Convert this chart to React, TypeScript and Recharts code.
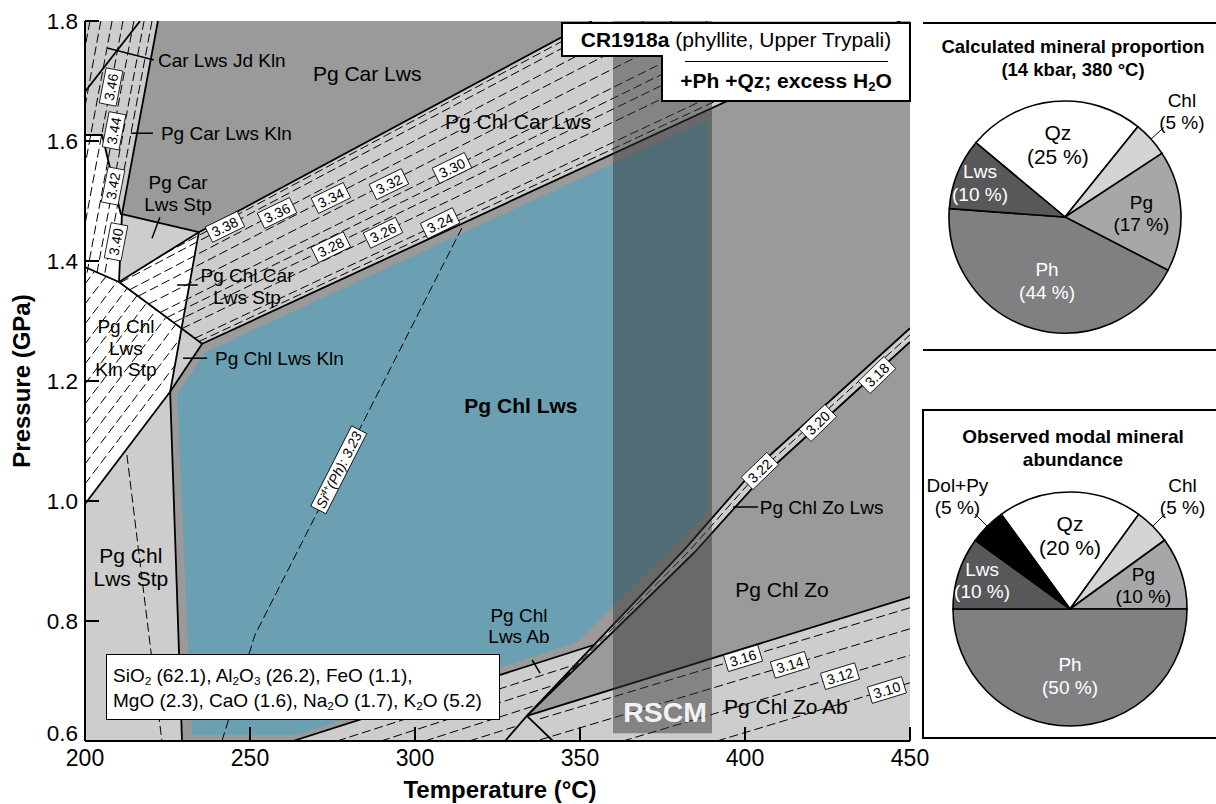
import React from "react";
import { ComposedChart, Scatter, XAxis, YAxis, PieChart, Pie, Cell } from "recharts";

const FONT = "'Liberation Sans', Arial, Helvetica, sans-serif";

// ---- axes ----
const T_TICKS = [200, 250, 300, 350, 400, 450];
const P_TICKS = [0.6, 0.8, 1.0, 1.2, 1.4, 1.6, 1.8];

// ---- fields [T (°C), P (GPa)] ----
const FIELD_BG = [[200, 0.6], [450, 0.6], [450, 1.8], [200, 1.8]];
const FIELD_CAR_LWS = [[222.1, 1.8], [353.6, 1.8], [234.5, 1.448], [211.2, 1.478]];
const FIELD_ZO = [
  [235.5, 1.262], [447.0, 1.8], [450, 1.8], [450, 0.84], [333.9, 0.642],
  [354.2, 0.76], [263.0, 0.6], [229.4, 0.6], [225.8, 1.182],
];
const FIELD_LWS = [
  [227.9, 1.177], [236.4, 1.248], [388.5, 1.635], [388.5, 0.98],
  [349.1, 0.765], [264.2, 0.61], [232.4, 0.61],
];
const FIELD_STP = [
  [200, 1.61], [205.2, 1.61], [210.9, 1.477], [210.3, 1.365],
  [234.5, 1.448], [225.8, 1.182], [200, 0.995],
];
const FIELD_ZO_LWS = [
  [333.9, 0.642], [382.1, 0.922], [403.3, 1.055], [450, 1.288],
  [450, 1.265], [406.1, 1.045], [384.8, 0.915],
];
const RSCM_T = [360, 390];
const RSCM_P = [0.613, 1.8];

// ---- solid field boundaries ----
const BOUNDARIES = [
  [[222.1, 1.8], [211.2, 1.478], [210.3, 1.365]],
  [[211.2, 1.478], [234.5, 1.448]],
  [[234.5, 1.448], [353.6, 1.8]],
  [[200, 1.682], [216.7, 1.8]],
  [[200, 1.61], [205.2, 1.61], [210.9, 1.477]],
  [[200, 1.39], [210.3, 1.365], [235.5, 1.262]],
  [[210.3, 1.365], [234.5, 1.448]],
  [[234.5, 1.448], [225.8, 1.182], [229.4, 0.6]],
  [[225.8, 1.182], [200, 0.995]],
  [[225.8, 1.182], [235.5, 1.262]],
  [[235.5, 1.262], [447.0, 1.8]],
  [[263.0, 0.6], [354.2, 0.76]],
  [[333.9, 0.642], [382.1, 0.922], [403.3, 1.055], [450, 1.288]],
  [[333.9, 0.642], [384.8, 0.915], [406.1, 1.045], [450, 1.265]],
  [[333.9, 0.642], [327.3, 0.6]],
  [[333.9, 0.642], [341.8, 0.6]],
  [[333.9, 0.642], [450, 0.84]],
];

const LEADERS = [
  [[206.7, 1.755], [220.9, 1.735]],
  [[213.9, 1.613], [220.6, 1.613]],
  [[222.7, 1.473], [220.3, 1.438]],
  [[227.9, 1.36], [234.2, 1.36]],
  [[229.7, 1.238], [237.0, 1.238]],
  [[396.4, 0.99], [403.9, 0.99]],
  [[335.5, 0.735], [337.9, 0.713]],
];

// ---- Si (Ph) isopleths ----
const ISO_CAR_LWS = [
  [[224.4, 1.413], [356.1, 1.8]],
  [[210.8, 1.3642], [360.1, 1.8]],
  [[213.6, 1.3523], [369.3, 1.8]],
  [[216.2, 1.3417], [377.9, 1.8]],
  [[219.4, 1.3287], [388.6, 1.8]],
  [[222.8, 1.3143], [390.9, 1.7735]],
  [[224.8, 1.3058], [390.9, 1.7545]],
  [[226.9, 1.2975], [390.9, 1.7357]],
  [[229.3, 1.2872], [390.9, 1.7128]],
  [[233.2, 1.271], [390.9, 1.6773]],
  [[234.5, 1.2658], [390.9, 1.666]],
];
const ISO_KLN = [
  [[201.5, 1.8], [200, 1.7555]],
  [[204.8, 1.8], [200, 1.6573]],
  [[208.2, 1.8], [200, 1.5593]],
  [[211.5, 1.8], [200, 1.4613]],
  [[214.8, 1.8], [200.5, 1.3767]],
  [[217.9, 1.8], [203.5, 1.3767]],
  [[220.3, 1.8], [205.9, 1.3767]],
];
const ISO_KLN_STP = [
  [[200, 1.0283], [227.3, 1.2263]],
  [[200, 1.0617], [228.9, 1.2713]],
  [[200, 1.095], [227.5, 1.2945]],
  [[200, 1.1283], [224.6, 1.3067]],
  [[200, 1.1617], [221.6, 1.3185]],
  [[200, 1.195], [218.7, 1.3305]],
  [[200, 1.2283], [215.8, 1.3425]],
  [[200, 1.2617], [212.8, 1.3547]],
  [[200, 1.295], [209.8, 1.3662]],
  [[200, 1.3283], [206.4, 1.3745]],
  [[200, 1.3617], [202.9, 1.3828]],
];
const ISO_OTHER = [
  [[212.7, 1.0767], [223.3, 0.6]],
  [[241.5, 0.6], [251.5, 0.7767], [314.2, 1.455]],
  [[276.4, 0.6], [347.8, 0.726]],
  [[289.7, 0.6], [342.1, 0.693]],
  [[303.0, 0.6], [336.4, 0.659]],
  [[316.4, 0.6], [331.5, 0.626]],
  [[337.9, 0.637], [450, 0.822]],
  [[337.9, 0.602], [450, 0.787]],
  [[363.0, 0.6], [450, 0.743]],
  [[391.5, 0.6], [450, 0.697]],
  [[333.9, 0.642], [383.3, 0.918], [404.5, 1.05], [450, 1.277]],
];

const ISO_LABELS_CAR = [
  { t: 242.4, p: 1.457, text: "3.38" },
  { t: 258.2, p: 1.48, text: "3.36" },
  { t: 274.5, p: 1.505, text: "3.34" },
  { t: 292.1, p: 1.528, text: "3.32" },
  { t: 311.2, p: 1.555, text: "3.30" },
  { t: 274.5, p: 1.423, text: "3.28" },
  { t: 290.3, p: 1.447, text: "3.26" },
  { t: 307.6, p: 1.463, text: "3.24" },
];
const ISO_LABELS_KLN = [
  { t: 207.9, p: 1.69, text: "3.46" },
  { t: 208.8, p: 1.617, text: "3.44" },
  { t: 208.5, p: 1.525, text: "3.42" },
  { t: 209.4, p: 1.432, text: "3.40" },
];
const ISO_LABELS_ZO_LWS = [
  { t: 404.5, p: 1.05, text: "3.22" },
  { t: 422.1, p: 1.13, text: "3.20" },
  { t: 440.0, p: 1.21, text: "3.18" },
];
const ISO_LABELS_ZO_AB = [
  { t: 399.4, p: 0.738, text: "3.16" },
  { t: 413.6, p: 0.727, text: "3.14" },
  { t: 428.8, p: 0.708, text: "3.12" },
  { t: 443.0, p: 0.685, text: "3.10" },
];
const ISO_LABEL_SI = [{ t: 276.9, p: 1.052, text: "Si^{4+}(Ph): 3.23" }];

// ---- field names ----
const NAMES_SMALL = [
  { t: 228.2, p: 1.513, text: "Pg Car\nLws Stp" },
  { t: 249.1, p: 1.358, text: "Pg Chl Car\nLws Stp" },
  { t: 212.4, p: 1.255, text: "Pg Chl\nLws\nKln Stp" },
  { t: 331.5, p: 0.792, text: "Pg Chl\nLws Ab" },
];
const NAMES_LARGE = [
  { t: 285.5, p: 1.713, text: "Pg Car Lws" },
  { t: 331.2, p: 1.632, text: "Pg Chl Car Lws" },
  { t: 411.2, p: 0.852, text: "Pg Chl Zo" },
  { t: 412.4, p: 0.657, text: "Pg Chl Zo Ab" },
  { t: 213.9, p: 0.89, text: "Pg Chl\nLws Stp" },
];
const NAMES_BOLD = [{ t: 332.1, p: 1.16, text: "Pg Chl Lws" }];
const NAMES_LEADER = [
  { t: 222.1, p: 1.735, text: "Car Lws Jd Kln" },
  { t: 223.0, p: 1.613, text: "Pg Car Lws Kln" },
  { t: 239.4, p: 1.238, text: "Pg Chl Lws Kln" },
  { t: 404.5, p: 0.99, text: "Pg Chl Zo Lws" },
];
const RSCM_LABEL = [{ t: 375.8, p: 0.648, text: "RSCM" }];

// ---- pies ----
const CALC_NAMES = ["Qz", "Chl", "Pg", "Ph", "Lws"];
const CALC_VALUES = [25, 5, 17, 44, 10];
const OBS_NAMES = ["Qz", "Chl", "Pg", "Ph", "Lws", "Dol+Py"];
const OBS_VALUES = [20, 5, 10, 50, 10, 5];

const MINERAL_FILL: Record<string, string> = {
  Qz: "#ffffff", Chl: "#d4d4d4", Pg: "#a7a7a7", Ph: "#808082", Lws: "#58585a", "Dol+Py": "#000000",
};
const LABEL_R: Record<string, number> = { Qz: 0.63, Chl: 1.36, Pg: 0.66, Ph: 0.57, Lws: 0.79, "Dol+Py": 1.36 };
const LABEL_WHITE = ["Lws", "Ph"];
const LABEL_OUTSIDE = ["Chl", "Dol+Py"];

const LIGHT = "#cdcdcd";
const DARK = "#9a9a9a";
const BLUE = "#6aa0b2";

type Pt = { t: number; p: number };
const toPts = (a: number[][]): Pt[] => a.map(([t, p]) => ({ t, p }));
const noDot = () => <g />;

const pathOf = (pts: { x: number; y: number }[], closed: boolean) =>
  (pts || []).map((q, i) => `${i ? "L" : "M"}${q.x},${q.y}`).join(" ") + (closed ? " Z" : "");

function area(fill: string, opacity = 1) {
  return (lp: any) => <path d={pathOf(lp.points, true)} fill={fill} fillOpacity={opacity} stroke="none" />;
}
function stroke(w: number, dash?: string) {
  return (lp: any) => (
    <path d={pathOf(lp.points, false)} fill="none" stroke="#000" strokeWidth={w}
      strokeDasharray={dash} strokeLinejoin="round" />
  );
}

const charW = (ch: string) => (".,:;()il ".includes(ch) ? 0.3 : 0.56);

function richSpans(s: string, fs: number) {
  const parts: { txt: string; sup: boolean }[] = [];
  const re = /\^\{([^}]*)\}/g;
  let last = 0;
  let m: RegExpExecArray | null;
  while ((m = re.exec(s))) {
    if (m.index > last) parts.push({ txt: s.slice(last, m.index), sup: false });
    parts.push({ txt: m[1], sup: true });
    last = m.index + m[0].length;
  }
  if (last < s.length) parts.push({ txt: s.slice(last), sup: false });
  let width = 0;
  parts.forEach((pt) => pt.txt.split("").forEach((c) => (width += charW(c) * fs * (pt.sup ? 0.62 : 1))));
  let prevSup = false;
  const spans = parts.map((pt, i) => {
    const dy = pt.sup ? -fs * 0.38 : prevSup ? fs * 0.38 : 0;
    prevSup = pt.sup;
    return (
      <tspan key={i} dy={dy} fontSize={pt.sup ? fs * 0.62 : fs}>{pt.txt}</tspan>
    );
  });
  return { spans, width };
}

function boxLabel(angle: number, fs = 14, italic = false) {
  return (props: any) => {
    const { cx, cy } = props;
    const d = props.payload ?? props;
    const { spans, width } = richSpans(String(d.text), fs);
    const w = width + 8;
    const h = fs + 3;
    return (
      <g transform={`rotate(${angle} ${cx} ${cy})`}>
        <rect x={cx - w / 2} y={cy - h / 2} width={w} height={h} fill="#fff" stroke="#000" strokeWidth={0.8} />
        <text x={cx} y={cy + fs * 0.36} textAnchor="middle" fontSize={fs} fontFamily={FONT}
          fontStyle={italic ? "italic" : "normal"} fill="#000">
          {spans}
        </text>
      </g>
    );
  };
}

function textMark(fs: number, weight = "normal", anchor = "middle", color = "#000") {
  return (props: any) => {
    const { cx, cy } = props;
    const d = props.payload ?? props;
    const lines = String(d.text).split("\n");
    const lh = fs * 1.13;
    const y0 = cy - ((lines.length - 1) * lh) / 2 + fs * 0.36;
    return (
      <text textAnchor={anchor} fontSize={fs} fontWeight={weight} fill={color} fontFamily={FONT}>
        {lines.map((l, i) => (
          <tspan key={i} x={cx} y={y0 + i * lh}>{l}</tspan>
        ))}
      </text>
    );
  };
}

const AXIS_LINE = { stroke: "#000", strokeWidth: 2 };
const TICK_LINE = { stroke: "#000", strokeWidth: 2 };

const yTick = (props: any) => {
  const { x, y, payload } = props;
  const v = Number(payload.value);
  const shift = v === 0.6 ? -8 : 0;
  return (
    <text x={x} y={y + shift} dy="0.36em" textAnchor="end" fontSize={22.5} fontFamily={FONT} fill="#000">
      {v.toFixed(1)}
    </text>
  );
};

function PhaseDiagram() {
  const rscm = [
    [RSCM_T[0], RSCM_P[0]], [RSCM_T[1], RSCM_P[0]], [RSCM_T[1], RSCM_P[1]], [RSCM_T[0], RSCM_P[1]],
  ];
  return (
    <ComposedChart width={945} height={804} margin={{ top: 21, right: 35, bottom: 0, left: 25 }}>
      <Scatter data={toPts(FIELD_BG)} line={area(LIGHT)} shape={noDot} isAnimationActive={false} />
      <Scatter data={toPts(FIELD_CAR_LWS)} line={area(DARK)} shape={noDot} isAnimationActive={false} />
      <Scatter data={toPts(FIELD_ZO)} line={area(DARK)} shape={noDot} isAnimationActive={false} />
      <Scatter data={toPts(FIELD_LWS)} line={area(BLUE)} shape={noDot} isAnimationActive={false} />
      <Scatter data={toPts(FIELD_STP)} line={area("#ffffff")} shape={noDot} isAnimationActive={false} />
      <Scatter data={toPts(FIELD_ZO_LWS)} line={area(LIGHT)} shape={noDot} isAnimationActive={false} />

      {[...ISO_CAR_LWS, ...ISO_KLN, ...ISO_KLN_STP, ...ISO_OTHER].map((l, i) => (
        <Scatter key={`iso${i}`} data={toPts(l)} line={stroke(1, "9 4")} shape={noDot} isAnimationActive={false} />
      ))}
      {BOUNDARIES.map((l, i) => (
        <Scatter key={`b${i}`} data={toPts(l)} line={stroke(1.8)} shape={noDot} isAnimationActive={false} />
      ))}
      {LEADERS.map((l, i) => (
        <Scatter key={`ld${i}`} data={toPts(l)} line={stroke(1.5)} shape={noDot} isAnimationActive={false} />
      ))}

      <Scatter data={toPts(rscm)} line={area("#343434", 0.48)} shape={noDot} isAnimationActive={false} />

      <Scatter data={ISO_LABELS_CAR} shape={boxLabel(-26)} isAnimationActive={false} />
      <Scatter data={ISO_LABELS_KLN} shape={boxLabel(-79)} isAnimationActive={false} />
      <Scatter data={ISO_LABELS_ZO_LWS} shape={boxLabel(-44)} isAnimationActive={false} />
      <Scatter data={ISO_LABELS_ZO_AB} shape={boxLabel(-17)} isAnimationActive={false} />
      <Scatter data={ISO_LABEL_SI} shape={boxLabel(-63, 14, true)} isAnimationActive={false} />

      <Scatter data={NAMES_SMALL} shape={textMark(19)} isAnimationActive={false} />
      <Scatter data={NAMES_LARGE} shape={textMark(21)} isAnimationActive={false} />
      <Scatter data={NAMES_BOLD} shape={textMark(21, "bold")} isAnimationActive={false} />
      <Scatter data={NAMES_LEADER} shape={textMark(19, "normal", "start")} isAnimationActive={false} />
      <Scatter data={RSCM_LABEL} shape={textMark(28.5, "bold", "middle", "#f2f2f2")} isAnimationActive={false} />

      <XAxis dataKey="t" type="number" domain={[200, 450]} ticks={T_TICKS} interval={0} allowDataOverflow
        height={63} tickSize={-14} tickMargin={23} axisLine={AXIS_LINE} tickLine={TICK_LINE}
        tick={{ fontSize: 23, fill: "#000", fontFamily: FONT }} zIndex={1000} />
      <XAxis xAxisId="top" orientation="top" dataKey="t" type="number" domain={[200, 450]} ticks={T_TICKS}
        interval={0} allowDataOverflow height={0} tickSize={-14} tick={false} axisLine={AXIS_LINE}
        tickLine={TICK_LINE} zIndex={1000} />
      <YAxis dataKey="p" type="number" domain={[0.6, 1.8]} ticks={P_TICKS} interval={0} allowDataOverflow
        width={60} tickSize={-14} tickMargin={21} axisLine={AXIS_LINE} tickLine={TICK_LINE} tick={yTick}
        zIndex={1000} />
      <YAxis yAxisId="r" orientation="right" dataKey="p" type="number" domain={[0.6, 1.8]} ticks={P_TICKS}
        interval={0} allowDataOverflow width={0} tickSize={-14} tick={false} axisLine={AXIS_LINE}
        tickLine={TICK_LINE} zIndex={1000} />
    </ComposedChart>
  );
}

const RAD = Math.PI / 180;

function pieLabel(props: any) {
  const { cx, cy, midAngle, outerRadius } = props;
  const name = props.name ?? props.payload?.name;
  const value = props.value ?? props.payload?.value;
  const fs = name === "Qz" ? 21 : 19;
  const r = outerRadius * (LABEL_R[name] ?? 0.6);
  const cos = Math.cos(-midAngle * RAD);
  const sin = Math.sin(-midAngle * RAD);
  const x = cx + r * cos;
  const y = cy + r * sin;
  const lh = fs * 1.17;
  const color = LABEL_WHITE.includes(name) ? "#fff" : "#000";
  const outside = LABEL_OUTSIDE.includes(name);
  return (
    <g>
      {outside && (
        <line x1={cx + outerRadius * cos} y1={cy + outerRadius * sin}
          x2={cx + outerRadius * 1.15 * cos} y2={cy + outerRadius * 1.15 * sin}
          stroke="#000" strokeWidth={1} />
      )}
      <text textAnchor="middle" fontSize={fs} fontFamily={FONT} fill={color}>
        <tspan x={x} y={y - lh / 2 + fs * 0.36}>{name}</tspan>
        <tspan x={x} y={y + lh / 2 + fs * 0.36}>({value} %)</tspan>
      </text>
    </g>
  );
}

function MineralPie({ names, values, cx, cy, r, start, width, height }: any) {
  const data = names.map((name: string, i: number) => ({ name, value: values[i] }));
  return (
    <PieChart width={width} height={height}>
      <Pie data={data} dataKey="value" nameKey="name" cx={cx} cy={cy} outerRadius={r}
        startAngle={start} endAngle={start - 360} stroke="#000" strokeWidth={1.6}
        label={pieLabel} labelLine={false} isAnimationActive={false}>
        {data.map((d: any) => (
          <Cell key={d.name} fill={MINERAL_FILL[d.name]} />
        ))}
      </Pie>
    </PieChart>
  );
}

const sub = (s: string) => (
  <sub style={{ fontSize: "0.62em", verticalAlign: "-0.25em", lineHeight: 0 }}>{s}</sub>
);

export default function App() {
  const abs = (l: number, t: number, extra: React.CSSProperties = {}): React.CSSProperties => ({
    position: "absolute", left: l, top: t, ...extra,
  });
  return (
    <div style={{ position: "absolute", left: 0, top: 0, width: 1216, height: 804, background: "#fff",
      overflow: "hidden", fontFamily: FONT, color: "#000" }}>
      <div style={abs(0, 0)}>
        <PhaseDiagram />
      </div>

      {/* sample box */}
      <div style={abs(561, 22, { width: 350, height: 35, boxSizing: "border-box", border: "2px solid #000",
        background: "#fff", fontSize: 21, lineHeight: "31px", textAlign: "center", whiteSpace: "nowrap" })}>
        <b>CR1918a</b> (phyllite, Upper Trypali)
      </div>
      <div style={abs(661, 55, { width: 250, height: 47, boxSizing: "border-box", borderLeft: "2px solid #000",
        borderRight: "2px solid #000", borderBottom: "2px solid #000", background: "#fff" })}>
        <div style={abs(22, 6, { width: 203, height: 1.3, background: "#000" })} />
        <div style={abs(0, 10, { width: 246, textAlign: "center", fontSize: 21, fontWeight: "bold",
          lineHeight: "32px", whiteSpace: "nowrap" })}>
          +Ph +Qz; excess H{sub("2")}O
        </div>
      </div>

      {/* bulk composition */}
      <div style={abs(106, 654, { width: 394, height: 66, boxSizing: "border-box", border: "1.5px solid #000",
        background: "#fff", fontSize: 19, lineHeight: "25px", padding: "8px 0 0 6px", whiteSpace: "nowrap" })}>
        <div>SiO{sub("2")} (62.1), Al{sub("2")}O{sub("3")} (26.2), FeO (1.1),</div>
        <div>MgO (2.3), CaO (1.6), Na{sub("2")}O (1.7), K{sub("2")}O (5.2)</div>
      </div>

      {/* axis titles */}
      <div style={abs(300, 776, { width: 400, textAlign: "center", fontSize: 24, fontWeight: "bold",
        lineHeight: "28px" })}>
        Temperature (°C)
      </div>
      <div style={abs(-128, 367, { width: 300, height: 28, textAlign: "center", fontSize: 24, fontWeight: "bold",
        lineHeight: "28px", transform: "rotate(-90deg)" })}>
        Pressure (GPa)
      </div>

      {/* right panels */}
      <div style={abs(923, 22, { width: 293, height: 2, background: "#000" })} />
      <div style={abs(923, 349, { width: 293, height: 2, background: "#000" })} />
      <div style={abs(922, 409, { width: 310, height: 330, boxSizing: "border-box", border: "2px solid #000" })} />

      <div style={abs(920, 0)}>
        <MineralPie names={CALC_NAMES} values={CALC_VALUES} cx={140} cy={212} r={116} start={140.2}
          width={296} height={350} />
      </div>
      <div style={abs(920, 350)}>
        <MineralPie names={OBS_NAMES} values={OBS_VALUES} cx={145} cy={254} r={117} start={126}
          width={296} height={454} />
      </div>

      <div style={abs(923, 35, { width: 300, textAlign: "center", fontSize: 18.5, fontWeight: "bold",
        lineHeight: "23px" })}>
        Calculated mineral proportion<br />(14 kbar, 380 °C)
      </div>
      <div style={abs(923, 425, { width: 300, textAlign: "center", fontSize: 19, fontWeight: "bold",
        lineHeight: "23px" })}>
        Observed modal mineral<br />abundance
      </div>
    </div>
  );
}
